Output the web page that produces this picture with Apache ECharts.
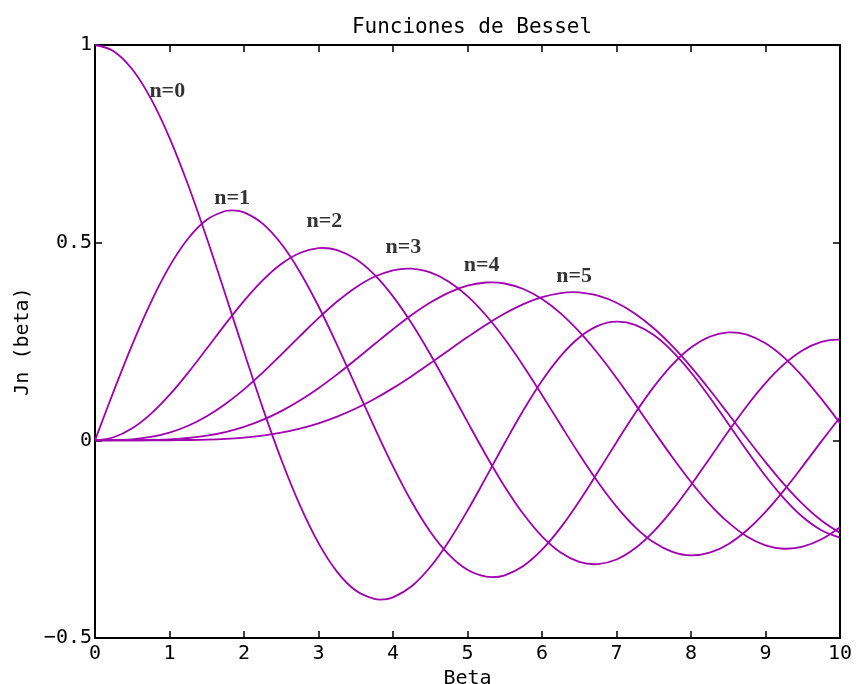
<!DOCTYPE html>
<html>
<head>
<meta charset="utf-8">
<script src="https://cdn.jsdelivr.net/npm/echarts@6/dist/echarts.min.js"></script>
<style>
  html, body { margin: 0; padding: 0; background: #fff; }
  #chart { width: 858px; height: 684px; }
</style>
</head>
<body>
<div id="chart"></div>
<script>
// Bessel functions of the first kind, J0 .. J5, sampled every 0.25 on [0, 10]
const beta = [0, 0.25, 0.5, 0.75, 1, 1.25, 1.5, 1.75, 2, 2.25, 2.5, 2.75, 3, 3.25, 3.5, 3.75, 4, 4.25, 4.5, 4.75, 5,
  5.25, 5.5, 5.75, 6, 6.25, 6.5, 6.75, 7, 7.25, 7.5, 7.75, 8, 8.25, 8.5, 8.75, 9, 9.25, 9.5, 9.75, 10];
const j0 = [1, 0.9844, 0.9385, 0.8642, 0.7652, 0.6459, 0.5118, 0.3690, 0.2239, 0.0828, -0.0484, -0.1641, -0.2601, -0.3327,
  -0.3801, -0.4013, -0.3971, -0.3691, -0.3205, -0.2551, -0.1776, -0.0931, -0.0068, 0.0759, 0.1506, 0.2130, 0.2601,
  0.2894, 0.3001, 0.2919, 0.2663, 0.2252, 0.1717, 0.1092, 0.0419, -0.0259, -0.0903, -0.1474, -0.1939, -0.2273, -0.2459];
const j1 = [0, 0.1240, 0.2423, 0.3492, 0.4401, 0.5106, 0.5579, 0.5801, 0.5767, 0.5483, 0.4971, 0.4260, 0.3391, 0.2411,
  0.1374, 0.0333, -0.0660, -0.1555, -0.2311, -0.2892, -0.3276, -0.3450, -0.3414, -0.3179, -0.2767, -0.2207, -0.1538,
  -0.0803, -0.0047, 0.0685, 0.1352, 0.1915, 0.2346, 0.2621, 0.2731, 0.2672, 0.2453, 0.2091, 0.1613, 0.1049, 0.0435];
const j2 = [0, 0.0078, 0.0306, 0.0671, 0.1149, 0.1711, 0.2321, 0.2940, 0.3528, 0.4047, 0.4461, 0.4739, 0.4861, 0.4811,
  0.4586, 0.4191, 0.3641, 0.2959, 0.2178, 0.1334, 0.0466, -0.0383, -0.1173, -0.1865, -0.2429, -0.2837, -0.3074,
  -0.3132, -0.3014, -0.2731, -0.2303, -0.1758, -0.1130, -0.0457, 0.0223, 0.0870, 0.1448, 0.1926, 0.2279, 0.2488, 0.2546];
const j3 = [0, 0.0003, 0.0026, 0.0085, 0.0196, 0.0369, 0.0610, 0.0919, 0.1289, 0.1711, 0.2166, 0.2634, 0.3091, 0.3511,
  0.3868, 0.4139, 0.4302, 0.4341, 0.4247, 0.4014, 0.3648, 0.3157, 0.2561, 0.1882, 0.1148, 0.0392, -0.0353, -0.1053,
  -0.1676, -0.2193, -0.2581, -0.2823, -0.2911, -0.2843, -0.2626, -0.2274, -0.1809, -0.1258, -0.0652, -0.0027, 0.0584];
const j4 = [0, 0.0000, 0.0002, 0.0008, 0.0025, 0.0059, 0.0118, 0.0209, 0.0340, 0.0516, 0.0738, 0.1007, 0.1320, 0.1669,
  0.2044, 0.2430, 0.2811, 0.3169, 0.3484, 0.3738, 0.3912, 0.3992, 0.3967, 0.3829, 0.3576, 0.3213, 0.2748, 0.2196,
  0.1578, 0.0916, 0.0238, -0.0428, -0.1054, -0.1612, -0.2077, -0.2430, -0.2655, -0.2742, -0.2690, -0.2504, -0.2196];
const j5 = [0, 0.0000, 0.0000, 0.0001, 0.0002, 0.0008, 0.0018, 0.0037, 0.0070, 0.0121, 0.0195, 0.0297, 0.0430, 0.0599,
  0.0804, 0.1046, 0.1321, 0.1624, 0.1947, 0.2280, 0.2611, 0.2926, 0.3209, 0.3446, 0.3621, 0.3724, 0.3741, 0.3659,
  0.3479, 0.3204, 0.2835, 0.2382, 0.1858, 0.1281, 0.0671, 0.0053, -0.0550, -0.1113, -0.1613, -0.2028, -0.2341];

// turning points of each curve, merged into its samples
const ext0X = [3.8317, 7.0156];
const ext0Y = [-0.4028, 0.3001];
const ext1X = [1.8412, 5.3314, 8.5363];
const ext1Y = [0.5819, -0.3461, 0.2733];
const ext2X = [3.0542, 6.7061, 9.9695];
const ext2Y = [0.4865, -0.3135, 0.2547];
const ext3X = [4.2012, 8.0152];
const ext3Y = [0.4344, -0.2911];
const ext4X = [5.3176, 9.2824];
const ext4Y = [0.3996, -0.2743];
const ext5X = [6.4156];
const ext5Y = [0.3747];

// curve annotations
const tagText = ['n=0', 'n=1', 'n=2', 'n=3', 'n=4', 'n=5'];
const tagX = [0.73, 1.60, 2.84, 3.90, 4.95, 6.19];
const tagY = [0.884, 0.611, 0.553, 0.487, 0.443, 0.414];

const curves = [
  [j0, ext0X, ext0Y], [j1, ext1X, ext1Y], [j2, ext2X, ext2Y],
  [j3, ext3X, ext3Y], [j4, ext4X, ext4Y], [j5, ext5X, ext5Y]
];
const purple = '#a000b0';
const monoFont = '"DejaVu Sans Mono", monospace';

const chart = echarts.init(document.getElementById('chart'), null, { renderer: 'canvas' });

const lineSeries = curves.map(([ys, ex, ey], k) => {
  const pts = beta.map((b, i) => [b, ys[i]]).concat(ex.map((x, i) => [x, ey[i]]));
  pts.sort((a, b) => a[0] - b[0]);
  return {
    name: 'J' + k,
    type: 'line',
    data: pts,
    smooth: 0.35,
    showSymbol: false,
    symbol: 'none',
    lineStyle: { color: purple, width: 1.8 },
    silent: true,
    z: 2
  };
});

const tagSeries = {
  type: 'scatter',
  data: tagX.map((x, i) => ({ value: [x, tagY[i]], name: tagText[i] })),
  symbolSize: 0,
  silent: true,
  label: {
    show: true,
    position: 'right',
    distance: 0,
    formatter: p => p.name,
    fontFamily: '"Liberation Serif", "Times New Roman", serif',
    fontWeight: 'bold',
    fontSize: 22,
    color: '#000'
  },
  z: 3
};

const axisLineStyle = { show: true, onZero: false, lineStyle: { color: '#000', width: 2 } };
const tickStyle = { show: true, inside: true, length: 7, lineStyle: { color: '#000', width: 1.5 } };
const labelStyle = { fontFamily: monoFont, fontSize: 20, color: '#000' };

chart.setOption({
  backgroundColor: '#fff',
  animation: false,
  title: {
    text: 'Funciones de Bessel',
    left: 467,
    textAlign: 'center',
    top: 12,
    textStyle: { fontFamily: monoFont, fontSize: 21, fontWeight: 'normal', color: '#000' }
  },
  grid: { left: 95, right: 18, top: 45, bottom: 46, containLabel: false, outerBoundsMode: 'none' },
  xAxis: [
    {
      type: 'value', min: 0, max: 10, interval: 1, position: 'bottom',
      name: 'Beta', nameLocation: 'middle', nameGap: 29,
      nameTextStyle: labelStyle,
      axisLine: axisLineStyle, axisTick: tickStyle,
      axisLabel: Object.assign({ margin: 6 }, labelStyle),
      splitLine: { show: false }
    },
    {
      type: 'value', min: 0, max: 10, interval: 1, position: 'top',
      axisLine: axisLineStyle, axisTick: tickStyle,
      axisLabel: { show: false }, splitLine: { show: false }
    }
  ],
  yAxis: [
    {
      type: 'value', min: -0.5, max: 1, interval: 0.5, position: 'left',
      name: 'Jn (beta)', nameLocation: 'middle', nameGap: 62, nameRotate: 90,
      nameTextStyle: labelStyle,
      axisLine: axisLineStyle, axisTick: tickStyle,
      axisLabel: Object.assign({ margin: 3, formatter: v => String(v).replace('-', '\u2212') }, labelStyle),
      splitLine: { show: false }
    },
    {
      type: 'value', min: -0.5, max: 1, interval: 0.5, position: 'right',
      axisLine: axisLineStyle, axisTick: tickStyle,
      axisLabel: { show: false }, splitLine: { show: false }
    }
  ],
  series: lineSeries.concat([tagSeries])
});
</script>
</body>
</html>
